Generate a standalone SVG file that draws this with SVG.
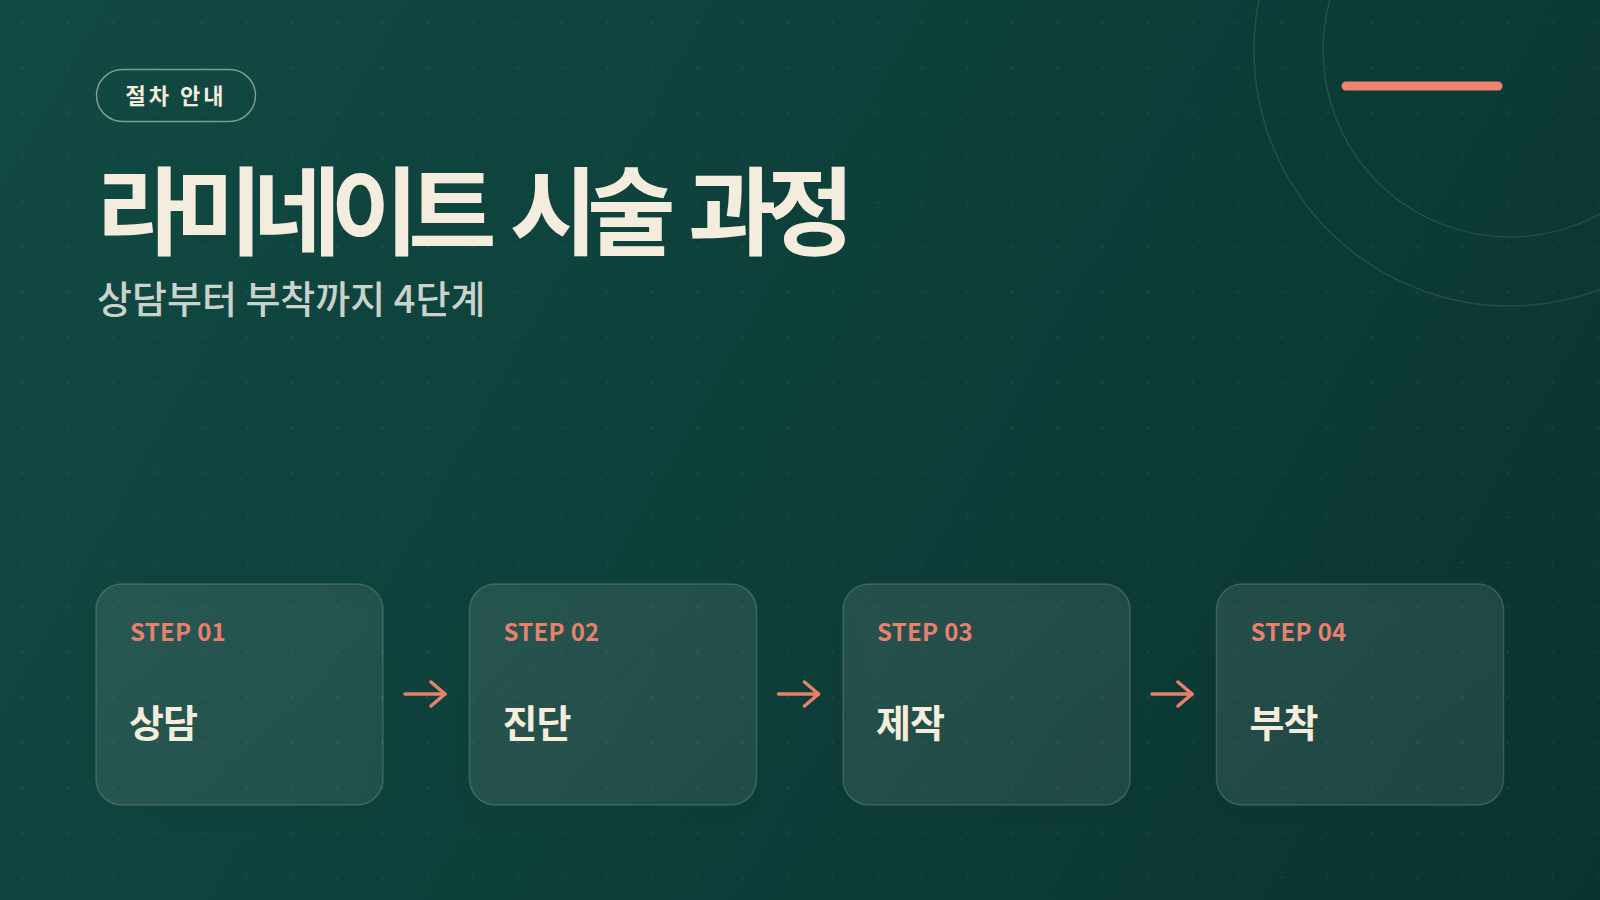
<svg xmlns="http://www.w3.org/2000/svg" width="1600" height="900" viewBox="0 0 1600 900">
  <defs>
    <linearGradient id="bg" x1="0" y1="0" x2="1600" y2="900" gradientUnits="userSpaceOnUse">
      <stop offset="0" stop-color="#114a43"/>
      <stop offset="1" stop-color="#0a3430"/>
    </linearGradient>
    <pattern id="dots" x="0" y="0" width="45" height="45" patternUnits="userSpaceOnUse">
      <circle cx="22.5" cy="22.5" r="1.3" fill="#ffffff" fill-opacity="0.05"/>
    </pattern>
    <linearGradient id="cardfill" x1="0" y1="0" x2="1" y2="1">
      <stop offset="0" stop-color="#ffffff" stop-opacity="0.09"/>
      <stop offset="1" stop-color="#ffffff" stop-opacity="0.07"/>
    </linearGradient>
    <filter id="shadow" x="-20%" y="-20%" width="140%" height="160%">
      <feDropShadow dx="0" dy="12" stdDeviation="14" flood-color="#021a17" flood-opacity="0.35"/>
    </filter>
    <marker id="arrowhead" viewBox="0 0 20 28" refX="17" refY="14" markerWidth="20" markerHeight="28" markerUnits="userSpaceOnUse" orient="auto">
      <path d="M3 2 L17 14 L3 26" fill="none" stroke="#e8806c" stroke-width="3.5" stroke-linecap="round" stroke-linejoin="round"/>
    </marker>
    <style>
      .kr { font-family: "Noto Sans CJK KR", "Noto Sans", sans-serif; }
      .card { fill: url(#cardfill); stroke: #ffffff; stroke-opacity: 0.16; stroke-width: 1.5; }
      .step { font-size: 24px; font-weight: 700; fill: #e8806c; letter-spacing: 0.3px; }
      .name { font-size: 38px; font-weight: 700; fill: #f4ecdc; letter-spacing: -1px; }
      .conn { stroke: #e8806c; stroke-width: 3.5; stroke-linecap: round; fill: none; }
      .ring { fill: none; stroke: #ffffff; stroke-opacity: 0.1; stroke-width: 1.5; }
    </style>
  </defs>

  <rect width="1600" height="900" fill="url(#bg)"/>
  <rect width="1600" height="900" fill="url(#dots)"/>

  <g id="decor">
    <circle class="ring" cx="1510" cy="50" r="256"/>
    <circle class="ring" cx="1510" cy="50" r="187"/>
    <line x1="1346" y1="86" x2="1498" y2="86" stroke="#f0826f" stroke-width="9" stroke-linecap="round"/>
  </g>

  <g id="header">
    <rect x="96.5" y="69.5" width="159" height="52" rx="26" fill="none" stroke="#ffffff" stroke-opacity="0.45" stroke-width="1.5"/>
    <text class="kr" x="176" y="104" text-anchor="middle" font-size="22" font-weight="700" fill="#f4ecdc" letter-spacing="3">절차 안내</text>
    <text class="kr" x="97" y="247" font-size="96" font-weight="700" fill="#f4ecdc" letter-spacing="-10.5" word-spacing="12">라미네이트 시술 과정</text>
    <text class="kr" x="97" y="313" font-size="38" font-weight="500" fill="#c9d3cc" letter-spacing="0">상담부터 부착까지 4단계</text>
  </g>

  <g id="step1">
    <rect class="card" x="96" y="584" width="287" height="221" rx="26" filter="url(#shadow)"/>
    <text class="kr step" x="130" y="641">STEP 01</text>
    <text class="kr name" x="129" y="737">상담</text>
  </g>
  <g id="step2">
    <rect class="card" x="469.5" y="584" width="287" height="221" rx="26" filter="url(#shadow)"/>
    <text class="kr step" x="503.5" y="641">STEP 02</text>
    <text class="kr name" x="502.5" y="737">진단</text>
  </g>
  <g id="step3">
    <rect class="card" x="843" y="584" width="287" height="221" rx="26" filter="url(#shadow)"/>
    <text class="kr step" x="877" y="641">STEP 03</text>
    <text class="kr name" x="876" y="737">제작</text>
  </g>
  <g id="step4">
    <rect class="card" x="1216.5" y="584" width="287" height="221" rx="26" filter="url(#shadow)"/>
    <text class="kr step" x="1250.5" y="641">STEP 04</text>
    <text class="kr name" x="1249.5" y="737">부착</text>
  </g>

  <g id="connectors">
    <line class="conn" x1="405" y1="694" x2="445" y2="694" marker-end="url(#arrowhead)"/>
    <line class="conn" x1="778.5" y1="694" x2="818.5" y2="694" marker-end="url(#arrowhead)"/>
    <line class="conn" x1="1152" y1="694" x2="1192" y2="694" marker-end="url(#arrowhead)"/>
  </g>
</svg>
